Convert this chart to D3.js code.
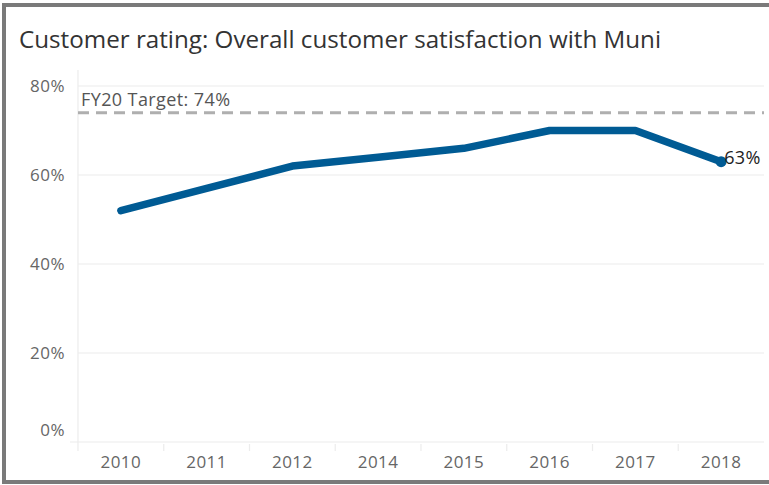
<!DOCTYPE html>
<html>
<head>
<meta charset="utf-8">
<script src="https://cdn.jsdelivr.net/npm/d3@7"></script>
<style>
  body { margin: 0; background: #fff; }
  svg { display: block; font-family: "Open Sans", "Noto Sans", sans-serif; }
</style>
</head>
<body>
<div id="chart"></div>
<script>
// data
var years = ["2010", "2011", "2012", "2014", "2015", "2016", "2017", "2018"];
var rating = [52, 57, 62, 64, 66, 70, 70, 63];
var yTicks = [0, 20, 40, 60, 80];
var target = 74;
var targetLabel = "FY20 Target: 74%";
var title = "Customer rating: Overall customer satisfaction with Muni";

var width = 769, height = 485;
var margin = { top: 86, right: 5, bottom: 42, left: 78 };

var svg = d3.select("#chart").append("svg")
  .attr("width", width)
  .attr("height", height);

// outer frame (left, top, bottom only)
svg.append("path")
  .attr("d", "M769,5 L4,5 L4,482 L769,482")
  .attr("fill", "none")
  .attr("stroke", "#7a7a7a")
  .attr("stroke-width", 4);

svg.append("text")
  .attr("x", 19)
  .attr("y", 48)
  .attr("font-size", 24.2)
  .attr("fill", "#333")
  .text(title);

var x = d3.scaleBand()
  .domain(years)
  .range([margin.left, width - margin.right]);

var y = d3.scaleLinear()
  .domain([0, 80])
  .range([height - margin.bottom - 1, margin.top]);

// gridlines
svg.append("g")
  .selectAll("line")
  .data(yTicks)
  .join("line")
  .attr("x1", d => d === 0 ? margin.left - 8 : margin.left)
  .attr("x2", width - margin.right)
  .attr("y1", d => y(d))
  .attr("y2", d => y(d))
  .attr("stroke", "#ececec")
  .attr("stroke-width", 1.2);

// left axis line
svg.append("line")
  .attr("x1", margin.left).attr("x2", margin.left)
  .attr("y1", 70).attr("y2", y(0) + 9)
  .attr("stroke", "#ececec")
  .attr("stroke-width", 1.2);

// y tick labels (the 0% one sits above the baseline)
svg.append("g")
  .selectAll("text")
  .data(yTicks)
  .join("text")
  .attr("x", 65)
  .attr("y", d => d === 0 ? y(d) - 6 : y(d))
  .attr("dy", d => d === 0 ? 0 : "0.33em")
  .attr("text-anchor", "end")
  .attr("font-size", 17)
  .attr("letter-spacing", 0.5)
  .attr("fill", "#666")
  .text(d => d + "%");

// x band separators below baseline
svg.append("g")
  .selectAll("line")
  .data(years.slice(1))
  .join("line")
  .attr("x1", d => x(d)).attr("x2", d => x(d))
  .attr("y1", y(0) + 2).attr("y2", y(0) + 9)
  .attr("stroke", "#ececec")
  .attr("stroke-width", 1.2);

// x labels
svg.append("g")
  .selectAll("text")
  .data(years)
  .join("text")
  .attr("x", d => x(d) + x.bandwidth() / 2)
  .attr("y", y(0) + 26)
  .attr("text-anchor", "middle")
  .attr("font-size", 17)
  .attr("letter-spacing", 0.5)
  .attr("fill", "#666")
  .text(d => d);

// target line
svg.append("line")
  .attr("x1", margin.left)
  .attr("x2", width - margin.right)
  .attr("y1", y(target))
  .attr("y2", y(target))
  .attr("stroke", "#afafaf")
  .attr("stroke-width", 3)
  .attr("stroke-dasharray", "11,7");

svg.append("text")
  .attr("x", margin.left + 3)
  .attr("y", y(target) - 7)
  .attr("font-size", 18)
  .attr("letter-spacing", 0.4)
  .attr("fill", "#555")
  .text(targetLabel);

// rating line
var pts = years.map((d, i) => [x(d) + x.bandwidth() / 2, y(rating[i])]);

svg.append("path")
  .datum(pts)
  .attr("d", d3.line())
  .attr("fill", "none")
  .attr("stroke", "#005b94")
  .attr("stroke-width", 7.5)
  .attr("stroke-linejoin", "round")
  .attr("stroke-linecap", "round");

var last = pts[pts.length - 1];
svg.append("circle")
  .attr("cx", last[0])
  .attr("cy", last[1])
  .attr("r", 5.5)
  .attr("fill", "#005b94");

svg.append("text")
  .attr("x", last[0] + 3)
  .attr("y", last[1])
  .attr("dy", "0.15em")
  .attr("font-size", 18)
  .attr("letter-spacing", 0.4)
  .attr("fill", "#222")
  .text(rating[rating.length - 1] + "%");
</script>
</body>
</html>
